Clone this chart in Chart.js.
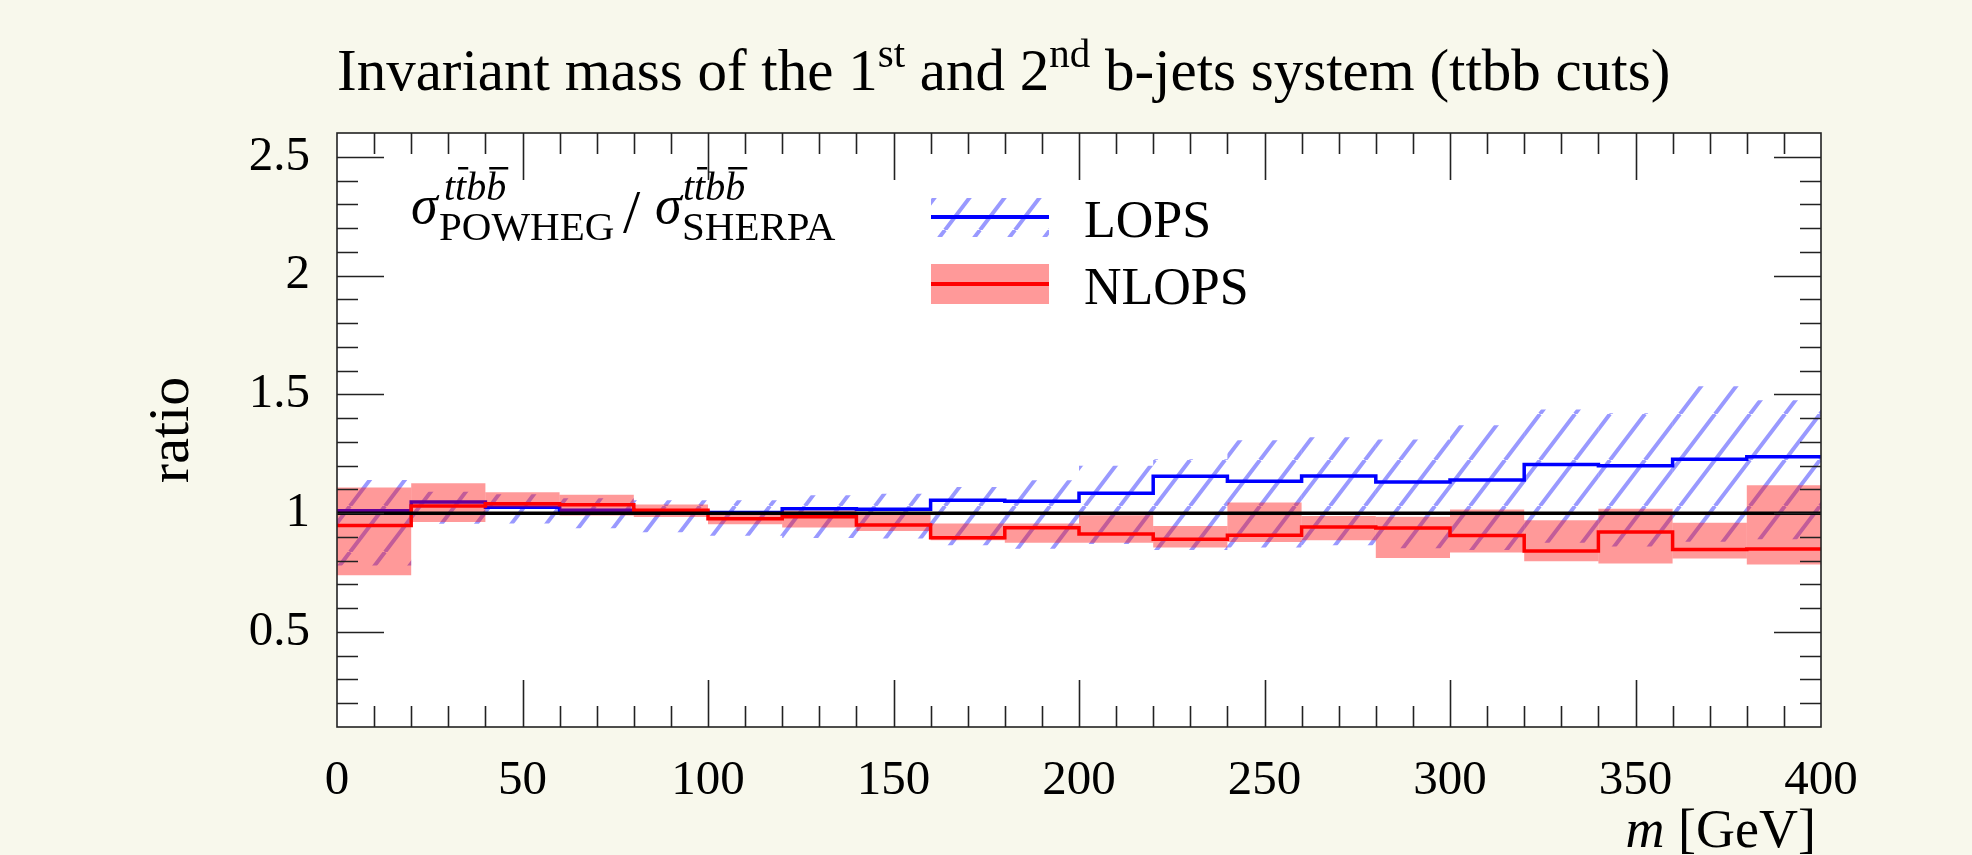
<!DOCTYPE html>
<html>
<head>
<meta charset="utf-8">
<title>Invariant mass ratio</title>
<script src="https://cdn.jsdelivr.net/npm/chart.js@4.4.1/dist/chart.umd.min.js"></script>
<style>
  html, body { margin: 0; padding: 0; background: #f8f8ec; }
  canvas { display: block; }
</style>
</head>
<body>
<canvas id="ratioChart" width="1972" height="855"></canvas>
<script>
// bins: lower edges in GeV (20 GeV wide)
const binLow = [0, 20, 40, 60, 80, 100, 120, 140, 160, 180, 200, 220, 240, 260, 280, 300, 320, 340, 360, 380];
const xMax = 400;

// LOPS (blue): central value and hatched band
const lopsCentral = [1.01, 1.047, 1.025, 1.012, 1.005, 1.003, 1.019, 1.016, 1.054, 1.05, 1.084, 1.155, 1.134, 1.156, 1.131, 1.14, 1.205, 1.2, 1.227, 1.237];
const lopsUp = [1.14, 1.09, 1.08, 1.063, 1.054, 1.054, 1.075, 1.082, 1.11, 1.138, 1.2, 1.227, 1.307, 1.32, 1.31, 1.37, 1.436, 1.42, 1.534, 1.475];
const lopsDown = [0.78, 0.955, 0.957, 0.936, 0.92, 0.905, 0.895, 0.893, 0.865, 0.85, 0.87, 0.845, 0.855, 0.865, 0.852, 0.845, 0.875, 0.86, 0.88, 0.89];

// NLOPS (red): central value and filled band
const nlopsCentral = [0.948, 1.03, 1.04, 1.035, 1.012, 0.976, 0.985, 0.95, 0.897, 0.939, 0.912, 0.89, 0.907, 0.942, 0.938, 0.906, 0.841, 0.921, 0.847, 0.849];
const nlopsUp = [1.108, 1.126, 1.088, 1.077, 1.036, 1.005, 1.01, 1.0, 0.956, 0.956, 0.991, 0.946, 1.045, 0.988, 0.985, 1.015, 0.97, 1.019, 0.96, 1.117];
const nlopsDown = [0.739, 0.963, 1.025, 0.99, 0.984, 0.953, 0.94, 0.925, 0.886, 0.875, 0.875, 0.855, 0.879, 0.886, 0.811, 0.834, 0.798, 0.788, 0.809, 0.784];

// axis ticks
const xTickValues = [0, 50, 100, 150, 200, 250, 300, 350, 400];
const xTickLabels = ['0', '50', '100', '150', '200', '250', '300', '350', '400'];
const yTickValues = [0.5, 1, 1.5, 2, 2.5];
const yTickLabels = ['0.5', '1', '1.5', '2', '2.5'];

const SERIF = "'Liberation Serif', 'Times New Roman', serif";
const binWidth = binLow[1] - binLow[0];

const canvas = document.getElementById('ratioChart');
const ctx0 = canvas.getContext('2d');

function makeHatch() {
  const tile = document.createElement('canvas');
  const w = 35, h = 46;
  tile.width = w;
  tile.height = h;
  const g = tile.getContext('2d');
  g.strokeStyle = 'rgba(0, 0, 255, 0.4)';
  g.lineWidth = 4;
  g.beginPath();
  for (let k = -1; k <= 1; k++) {
    g.moveTo(k * w, h);
    g.lineTo(k * w + w, 0);
  }
  g.stroke();
  return ctx0.createPattern(tile, 'repeat');
}
const hatch = makeHatch();

function toSteps(vals) {
  const pts = binLow.map((x, i) => ({x: x, y: vals[i]}));
  pts.push({x: xMax, y: vals[vals.length - 1]});
  return pts;
}

function toBand(lo, hi) {
  return binLow.map((x, i) => ({x: x + binWidth / 2, y: [lo[i], hi[i]]}));
}

function drawParts(ctx, x, y, parts) {
  parts.forEach((p) => {
    ctx.font = (p.italic ? 'italic ' : '') + p.size + 'px ' + SERIF;
    ctx.fillText(p.text, x, y - (p.rise || 0));
    x += ctx.measureText(p.text).width;
  });
  return x;
}

// sigma with t tbar b bbar superscript and generator subscript
function drawSigma(ctx, x, supDx, sub, subDx) {
  ctx.font = 'italic 54px ' + SERIF;
  ctx.fillText('\u03c3', x, 223);
  ctx.font = 'italic 40px ' + SERIF;
  let px = x + supDx;
  ['t', 't', 'b', 'b'].forEach((ch, i) => {
    ctx.fillText(ch, px, 200);
    const cw = ctx.measureText(ch).width;
    if (i % 2 === 1) ctx.fillRect(px + 3, 167, cw - 1, 2.5);
    px += cw;
  });
  ctx.font = '41px ' + SERIF;
  ctx.fillText(sub, x + subDx, 240);
}

const decor = {
  id: 'decor',
  beforeDraw(chart) {
    const {ctx, chartArea: a} = chart;
    ctx.save();
    ctx.fillStyle = '#ffffff';
    ctx.fillRect(a.left, a.top, a.right - a.left, a.bottom - a.top);
    ctx.restore();
  },
  afterDraw(chart) {
    const {ctx, chartArea: a} = chart;
    const xs = chart.scales.x;
    const ys = chart.scales.y;
    ctx.save();

    // frame and inward ticks
    ctx.strokeStyle = '#222';
    ctx.lineWidth = 1.6;
    ctx.strokeRect(a.left, a.top, a.right - a.left, a.bottom - a.top);
    ctx.beginPath();
    for (let v = 10; v < xMax; v += 10) {
      const px = Math.round(xs.getPixelForValue(v)) + 0.5;
      const len = v % 50 === 0 ? 47 : 21;
      ctx.moveTo(px, a.bottom); ctx.lineTo(px, a.bottom - len);
      ctx.moveTo(px, a.top); ctx.lineTo(px, a.top + len);
    }
    for (let k = 2; k <= 25; k++) {
      const py = Math.round(ys.getPixelForValue(k / 10)) + 0.5;
      const len = k % 5 === 0 ? 47 : 21;
      ctx.moveTo(a.left, py); ctx.lineTo(a.left + len, py);
      ctx.moveTo(a.right, py); ctx.lineTo(a.right - len, py);
    }
    ctx.stroke();

    ctx.fillStyle = '#000';
    ctx.textBaseline = 'alphabetic';
    ctx.textAlign = 'left';

    // title
    drawParts(ctx, 337, 90, [
      {text: 'Invariant mass of the 1', size: 59},
      {text: 'st', size: 41, rise: 23},
      {text: ' and 2', size: 59},
      {text: 'nd', size: 41, rise: 23},
      {text: ' b-jets system (ttbb cuts)', size: 59}
    ]);

    // ratio label inside the plot
    drawSigma(ctx, 411, 33, 'POWHEG', 28);
    ctx.font = '62px ' + SERIF;
    ctx.fillText('/', 623, 232);
    drawSigma(ctx, 655, 28, 'SHERPA', 27);

    // legend
    const sw = {x: 931, w: 118};
    ctx.fillStyle = hatch;
    ctx.fillRect(sw.x, 198, sw.w, 39);
    ctx.fillStyle = 'rgba(255, 0, 0, 0.4)';
    ctx.fillRect(sw.x, 264, sw.w, 40);
    ctx.fillStyle = '#0000ff';
    ctx.fillRect(sw.x, 215, sw.w, 4);
    ctx.fillStyle = '#ff0000';
    ctx.fillRect(sw.x, 282, sw.w, 4);
    ctx.fillStyle = '#000';
    ctx.font = '52px ' + SERIF;
    ctx.fillText('LOPS', 1084, 237);
    ctx.fillText('NLOPS', 1084, 304);

    // y axis title
    ctx.save();
    ctx.translate(188, 430);
    ctx.rotate(-Math.PI / 2);
    ctx.textAlign = 'center';
    ctx.font = '58px ' + SERIF;
    ctx.fillText('ratio', 0, 0);
    ctx.restore();

    // x axis title, right aligned
    ctx.textAlign = 'right';
    ctx.font = '54px ' + SERIF;
    const unit = ' [GeV]';
    ctx.fillText(unit, 1816, 847);
    const uw = ctx.measureText(unit).width;
    ctx.font = 'italic 54px ' + SERIF;
    ctx.fillText('m', 1816 - uw, 847);

    ctx.restore();
  }
};

const tickFont = {family: SERIF, size: 49};

new Chart(canvas, {
  type: 'line',
  data: {
    datasets: [
      {
        type: 'line',
        label: 'reference',
        data: [{x: 0, y: 1}, {x: xMax, y: 1}],
        borderColor: '#000000',
        borderWidth: 3.5,
        pointRadius: 0,
        order: 0
      },
      {
        type: 'line',
        label: 'NLOPS',
        data: toSteps(nlopsCentral),
        stepped: true,
        borderColor: '#ff0000',
        borderWidth: 3.5,
        pointRadius: 0,
        order: 1
      },
      {
        type: 'bar',
        label: 'NLOPS band',
        data: toBand(nlopsDown, nlopsUp),
        backgroundColor: 'rgba(255, 0, 0, 0.4)',
        borderWidth: 0,
        barPercentage: 1,
        categoryPercentage: 1,
        grouped: false,
        inflateAmount: 0,
        order: 2
      },
      {
        type: 'line',
        label: 'LOPS',
        data: toSteps(lopsCentral),
        stepped: true,
        borderColor: '#0000ff',
        borderWidth: 3.5,
        pointRadius: 0,
        order: 3
      },
      {
        type: 'bar',
        label: 'LOPS band',
        data: toBand(lopsDown, lopsUp),
        backgroundColor: hatch,
        borderWidth: 0,
        barPercentage: 1,
        categoryPercentage: 1,
        grouped: false,
        inflateAmount: 0,
        order: 4
      }
    ]
  },
  options: {
    responsive: false,
    devicePixelRatio: 1,
    animation: false,
    layout: {padding: {left: 0, right: 151, top: 133, bottom: 0}},
    plugins: {
      legend: {display: false},
      title: {display: false},
      tooltip: {enabled: false}
    },
    scales: {
      x: {
        type: 'linear',
        min: 0,
        max: xMax,
        offset: false,
        grid: {display: false, drawTicks: false, offset: false},
        border: {display: false},
        afterBuildTicks: (s) => { s.ticks = xTickValues.map((v) => ({value: v})); },
        afterFit: (s) => { s.height = 128; },
        ticks: {
          padding: 25,
          font: tickFont,
          color: '#000',
          maxRotation: 0,
          autoSkip: false,
          callback: (v, i) => xTickLabels[i]
        }
      },
      y: {
        type: 'linear',
        min: 0.1,
        max: 2.6,
        beginAtZero: false,
        grid: {display: false, drawTicks: false},
        border: {display: false},
        afterBuildTicks: (s) => { s.ticks = yTickValues.map((v) => ({value: v})); },
        afterFit: (s) => { s.width = 337; },
        ticks: {
          padding: 27,
          font: tickFont,
          color: '#000',
          autoSkip: false,
          callback: (v, i) => yTickLabels[i]
        }
      }
    }
  },
  plugins: [decor]
});
</script>
</body>
</html>
